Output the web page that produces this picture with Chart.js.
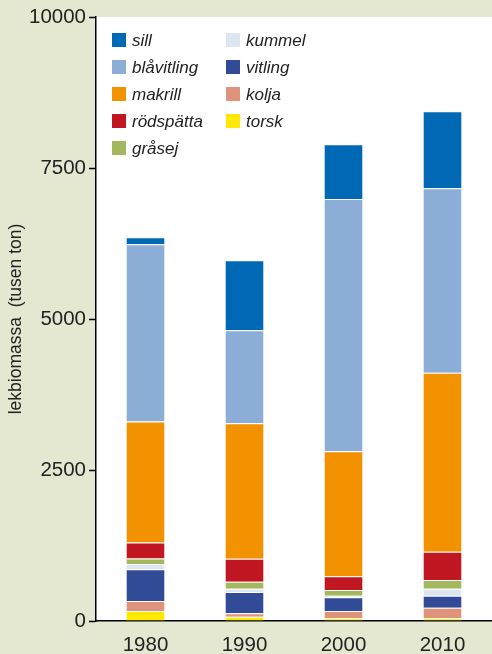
<!DOCTYPE html>
<html>
<head>
<meta charset="utf-8">
<script src="https://cdn.jsdelivr.net/npm/chart.js@4"></script>
<style>
  html, body { margin: 0; padding: 0; background: #e4e8d1; }
  #wrap { width: 492px; height: 654px; }
</style>
</head>
<body>
<div id="wrap"><canvas id="fishChart"></canvas></div>
<script>
var years = ['1980', '1990', '2000', '2010'];

// bottom to top of each stack
var torsk      = [166, 71, 45, 45];
var kolja      = [166, 56, 121, 175];
var vitling    = [525, 353, 227, 199];
var kummel     = [88, 55, 26, 116];
var grasej     = [88, 116, 94, 144];
var rodspatta  = [265, 381, 227, 469];
var makrill    = [2003, 2242, 2070, 2964];
var blavitling = [2937, 1540, 4178, 3054];
var sill       = [116, 1159, 906, 1275];

var yTicks = [0, 2500, 5000, 7500, 10000];

var ctx = document.getElementById('fishChart').getContext('2d');

function ds(label, values, color) {
    return {
        label: label,
        data: values,
        backgroundColor: color,
        borderColor: 'rgba(255,255,255,0.35)',
        borderWidth: 1,
        borderSkipped: 'start'
    };
}

var data = {
    labels: years,
    datasets: [
        ds('torsk', torsk, '#ffe900'),
        ds('kolja', kolja, '#de937a'),
        ds('vitling', vitling, '#324b97'),
        ds('kummel', kummel, '#dde5f3'),
        ds('gråsej', grasej, '#a3b85e'),
        ds('rödspätta', rodspatta, '#c01722'),
        ds('makrill', makrill, '#f39200'),
        ds('blåvitling', blavitling, '#8caed6'),
        ds('sill', sill, '#0068b4')
    ]
};

// beige page, white plot area
var backdrop = {
    id: 'backdrop',
    beforeDraw: function (chart) {
        var c = chart.ctx, a = chart.chartArea;
        c.save();
        c.fillStyle = '#e4e8d1';
        c.fillRect(0, 0, chart.width, chart.height);
        c.fillStyle = '#ffffff';
        c.fillRect(a.left, a.top, a.right - a.left, a.bottom - a.top);
        c.restore();
    }
};

// two-column legend inside the plot, top series first
var boxLegend = {
    id: 'boxLegend',
    afterDraw: function (chart) {
        var c = chart.ctx, a = chart.chartArea;
        var sets = chart.data.datasets.slice().reverse();
        c.save();
        c.font = 'italic 17px "Liberation Sans", Arial, sans-serif';
        c.textBaseline = 'middle';
        sets.forEach(function (d, i) {
            var col = i < 5 ? 0 : 1;
            var row = i < 5 ? i : i - 5;
            var x = a.left + 16 + col * 114;
            var y = a.top + 23 + row * 27;
            c.fillStyle = d.backgroundColor;
            c.fillRect(x, y - 7, 14, 14);
            c.fillStyle = '#222';
            c.fillText(d.label, x + 20, y + 1);
        });
        c.restore();
    }
};

var options = {
    responsive: true,
    maintainAspectRatio: false,
    animation: false,
    layout: { padding: { top: 17, right: 0, left: 0, bottom: 0 } },
    plugins: {
        legend: { display: false },
        tooltip: { enabled: false }
    },
    datasets: {
        bar: { barPercentage: 0.8, categoryPercentage: 0.5 }
    },
    scales: {
        x: {
            stacked: true,
            grid: { display: false, drawTicks: false },
            border: { display: true, color: '#000', width: 1.5 },
            ticks: {
                color: '#222',
                padding: 12,
                font: { family: '"Liberation Sans", Arial, sans-serif', size: 20.5 }
            },
            afterFit: function (scale) { scale.height = 33; }
        },
        y: {
            stacked: true,
            min: 0,
            max: 10000,
            afterBuildTicks: function (scale) {
                scale.ticks = yTicks.map(function (v) { return { value: v }; });
            },
            grid: {
                drawOnChartArea: false,
                drawTicks: true,
                tickLength: 7,
                tickColor: '#000',
                tickWidth: 1.5
            },
            border: { display: true, color: '#000', width: 1.5 },
            ticks: {
                color: '#222',
                padding: 3,
                font: { family: '"Liberation Sans", Arial, sans-serif', size: 20.5 },
                callback: function (v) { return String(v); }
            },
            title: {
                display: true,
                text: 'lekbiomassa  (tusen ton)',
                color: '#222',
                padding: { top: 6, bottom: 0 },
                font: { family: '"Liberation Sans", Arial, sans-serif', size: 17.5 }
            },
            afterFit: function (scale) { scale.width = 96; }
        }
    }
};

var fishChart = new Chart(ctx, {
    type: 'bar',
    data: data,
    options: options,
    plugins: [backdrop, boxLegend]
});
</script>
</body>
</html>
